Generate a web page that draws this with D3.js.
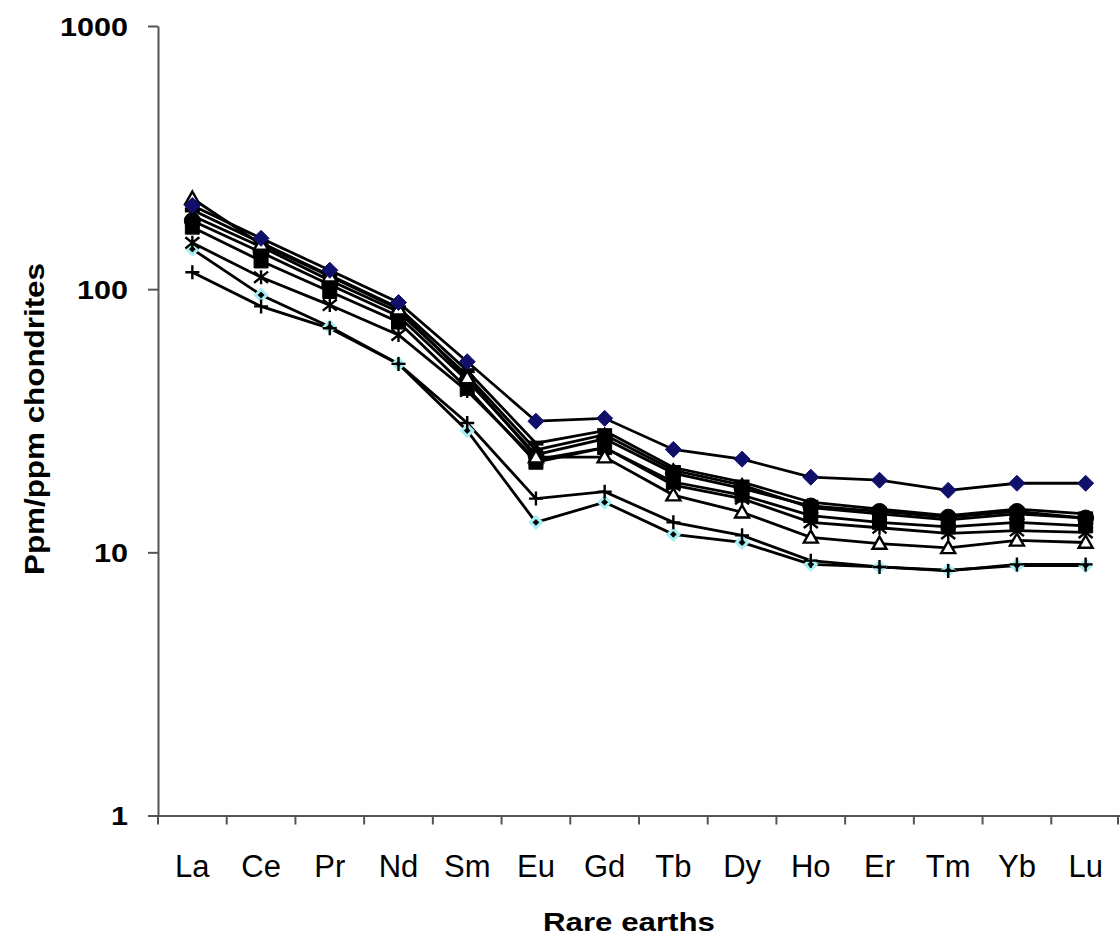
<!DOCTYPE html>
<html>
<head>
<meta charset="utf-8">
<script src="https://cdn.jsdelivr.net/npm/d3@7"></script>
<style>
  body { margin: 0; background: #fff; }
  svg { display: block; }
</style>
</head>
<body>
<div id="chart"></div>
<script>
// rare earth elements, chondrite normalised
const elements = ["La", "Ce", "Pr", "Nd", "Sm", "Eu", "Gd", "Tb", "Dy", "Ho", "Er", "Tm", "Yb", "Lu"];
const yTicks = [1, 10, 100, 1000];

const navyDiamond  = [208, 156, 118, 89, 53, 31.5, 32.3, 24.6, 22.6, 19.3, 18.8, 17.2, 18.3, 18.3];
const openTriangle = [221, 148, 112, 84, 46, 23, 23, 16.5, 14.2, 11.4, 10.8, 10.4, 11.1, 10.9];
const dash         = [200, 150, 113, 85, 49, 26, 29, 21, 18.5, 15.5, 14.6, 13.8, 14.6, 14];
const fillTriangle = [190, 145, 108, 82, 47, 24.5, 28, 20.5, 18, 14.8, 14, 13.3, 14, 13.5];
const circle       = [182, 138, 104, 79, 45, 23.5, 27, 20, 17.5, 15, 14.3, 13.6, 14.3, 13.5];
const square       = [172, 128, 98, 75, 42, 22, 25, 18.5, 16.5, 13.8, 13, 12.5, 13, 12.6];
const asterisk     = [150, 111, 87, 67, 41, 22.5, 25, 18, 16, 13, 12.4, 11.8, 12.1, 11.9];
const plus         = [116, 86, 71, 52, 31, 16, 17, 13, 11.6, 9.3, 8.8, 8.5, 9.0, 9.0];
const cyanDiamond  = [142, 95, 72, 52, 29, 13, 15.5, 11.7, 10.9, 9.0, 8.8, 8.55, 8.9, 8.9];

const width = 1120, height = 940;
const font = "Liberation Sans, Arial, sans-serif";
const svg = d3.select("#chart").append("svg")
  .attr("width", width).attr("height", height);

const x = d3.scaleBand().domain(elements).range([158, 1120]);
const y = d3.scaleLog().domain([1, 1000]).range([815.5, 26]);
const cx = d => x(d) + x.bandwidth() / 2;

// custom marker shapes (size = full width in px)
const diamondSym = { draw(ctx, s) { const r = s / 2;
  ctx.moveTo(0, -r); ctx.lineTo(r, 0); ctx.lineTo(0, r); ctx.lineTo(-r, 0); ctx.closePath(); } };
const plusSym = { draw(ctx, s) { const r = s / 2;
  ctx.moveTo(-r, 0); ctx.lineTo(r, 0); ctx.moveTo(0, -r); ctx.lineTo(0, r); } };
const starSym = { draw(ctx, s) { const r = s / 2;
  ctx.moveTo(-r, -r * 0.8); ctx.lineTo(r, r * 0.8); ctx.moveTo(-r, r * 0.8); ctx.lineTo(r, -r * 0.8);
  ctx.moveTo(0, -r); ctx.lineTo(0, r); } };
const dashSym = { draw(ctx, s) { const r = s / 2;
  ctx.rect(-r, -2.5, 2 * r, 5); } };
const squareSym = { draw(ctx, s) { const r = s / 2;
  ctx.rect(-r, -r, 2 * r, 2 * r); } };
const triSym = { draw(ctx, s) { const r = s / 2;
  ctx.moveTo(0, -r); ctx.lineTo(r, r * 0.75); ctx.lineTo(-r, r * 0.75); ctx.closePath(); } };
const circleSym = { draw(ctx, s) { const r = s / 2;
  ctx.moveTo(r, 0); ctx.arc(0, 0, r, 0, 2 * Math.PI); } };

const series = [
  { vals: cyanDiamond,  sym: diamondSym, size: 11, fill: "#000", stroke: "#a8eef2", sw: 3 },
  { vals: plus,         sym: plusSym,    size: 14, fill: "none", stroke: "#000", sw: 2.4 },
  { vals: asterisk,     sym: starSym,    size: 14, fill: "none", stroke: "#000", sw: 2.4 },
  { vals: square,       sym: squareSym,  size: 14, fill: "#000", stroke: "#000", sw: 1 },
  { vals: circle,       sym: circleSym,  size: 16, fill: "#000", stroke: "#000", sw: 1 },
  { vals: fillTriangle, sym: triSym,     size: 15, fill: "#000", stroke: "#000", sw: 1 },
  { vals: dash,         sym: dashSym,    size: 15, fill: "#000", stroke: "none", sw: 0 },
  { vals: openTriangle, sym: triSym,     size: 14, fill: "#fff", stroke: "#000", sw: 2.4 },
  { vals: navyDiamond,  sym: diamondSym, size: 16, fill: "#10106a", stroke: "#10106a", sw: 1 }
];

// axes
const yAxis = svg.append("g")
  .attr("transform", "translate(158,0)")
  .call(d3.axisLeft(y).tickValues(yTicks).tickSize(10).tickSizeOuter(0).tickFormat(d3.format("d")));
yAxis.selectAll("line, path").attr("stroke", "#555").attr("stroke-width", 2);
yAxis.selectAll("text")
  .attr("x", -30).attr("dy", "0.36em")
  .attr("fill", "#000")
  .style("font-family", font)
  .style("font-size", "25px").style("font-weight", "bold")
  .attr("textLength", d => String(d).length * 17)
  .attr("lengthAdjust", "spacingAndGlyphs");

const xAxis = svg.append("g")
  .attr("transform", "translate(0,815.5)")
  .call(d3.axisBottom(x).tickSize(0).tickSizeOuter(0).tickPadding(39));
xAxis.select("path").attr("stroke", "#555").attr("stroke-width", 2);
xAxis.selectAll("text")
  .attr("fill", "#000")
  .style("font-family", font)
  .style("font-size", "31px");
// ticks between categories
xAxis.selectAll(".sep")
  .data(elements.map(d => x(d)).concat([1118]))
  .join("line")
  .attr("class", "sep")
  .attr("x1", d => d).attr("x2", d => d)
  .attr("y1", 0).attr("y2", 9)
  .attr("stroke", "#555").attr("stroke-width", 2);

// lines and markers
const line = d3.line().x((d, i) => cx(elements[i])).y(d => y(d));
const plot = svg.append("g");
series.forEach(s => {
  plot.append("path")
    .attr("d", line(s.vals))
    .attr("fill", "none")
    .attr("stroke", "#000")
    .attr("stroke-width", 2.8);
});
series.forEach(s => {
  plot.selectAll(null)
    .data(s.vals)
    .join("path")
    .attr("transform", (d, i) => `translate(${cx(elements[i])},${y(d)})`)
    .attr("d", d3.symbol().type(s.sym).size(s.size))
    .attr("fill", s.fill)
    .attr("stroke", s.stroke)
    .attr("stroke-width", s.sw);
});

// axis titles
svg.append("text")
  .attr("transform", "translate(44,419) rotate(-90)")
  .attr("text-anchor", "middle")
  .style("font-family", font)
  .style("font-size", "27px").style("font-weight", "bold")
  .attr("textLength", 312).attr("lengthAdjust", "spacingAndGlyphs")
  .text("Ppm/ppm chondrites");

svg.append("text")
  .attr("x", 629).attr("y", 931)
  .attr("text-anchor", "middle")
  .style("font-family", font)
  .style("font-size", "26px").style("font-weight", "bold")
  .attr("textLength", 172).attr("lengthAdjust", "spacingAndGlyphs")
  .text("Rare earths");
</script>
</body>
</html>
